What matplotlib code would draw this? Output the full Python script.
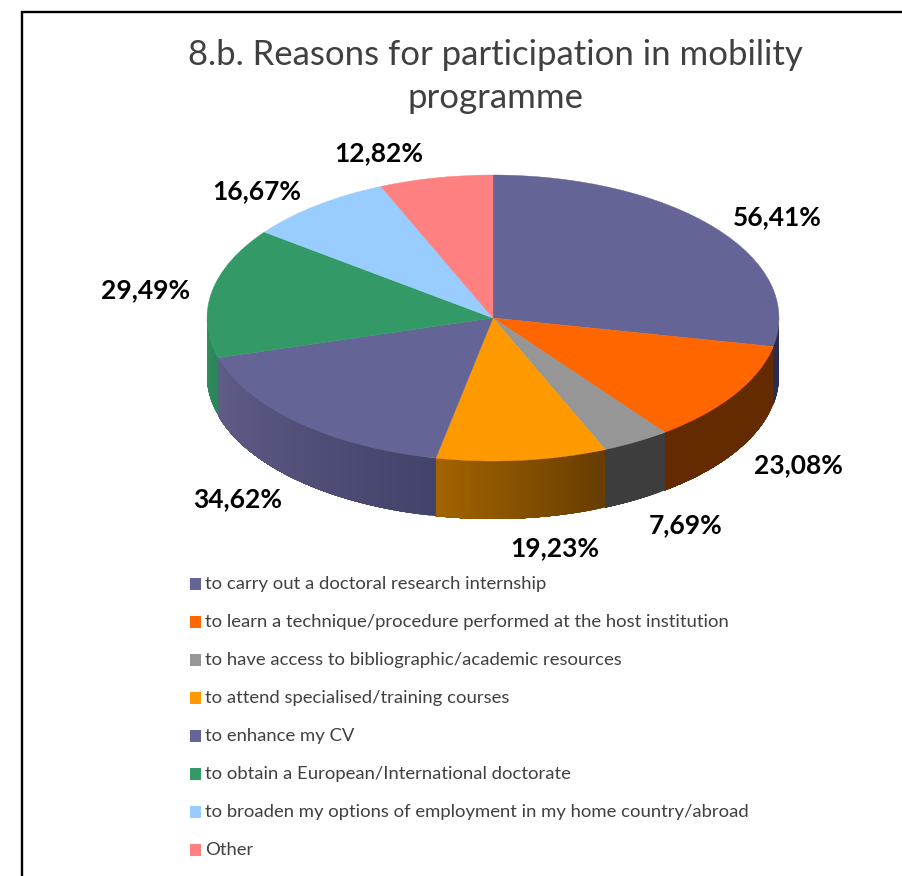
import matplotlib
matplotlib.use("Agg")
import matplotlib.pyplot as plt
import matplotlib.colors as mcolors
from matplotlib.patches import Wedge, Rectangle
from matplotlib.transforms import Affine2D
import numpy as np

plt.rcParams['font.family'] = ['Lato', 'DejaVu Sans']

# data
reasons = [
    'to carry out a doctoral research internship',
    'to learn a technique/procedure performed at the host institution',
    'to have access to bibliographic/academic resources',
    'to attend specialised/training courses',
    'to enhance my CV',
    'to obtain a European/International doctorate',
    'to broaden my options of employment in my home country/abroad',
    'Other',
]
percents = [56.41, 23.08, 7.69, 19.23, 34.62, 29.49, 16.67, 12.82]
value_labels = ['56,41%', '23,08%', '7,69%', '19,23%', '34,62%', '29,49%', '16,67%', '12,82%']

top_colors = ['#646496', '#ff6600', '#969696', '#ff9900', '#646496', '#339966', '#99ccff', '#ff8080']
side_from = ['#2b2b4d', '#652b00', '#3d3d3d', '#a36400', '#605e88', '#2f8f5f', '#99ccff', '#ff8080']
side_to = ['#2b2b4d', '#652b00', '#3d3d3d', '#663c00', '#43426a', '#2b8558', '#99ccff', '#ff8080']

# pixel positions of the value labels
label_x = [777, 798, 686, 555, 238, 146, 257, 379]
label_y = [217, 465, 525, 548, 499, 290, 191, 153]

cx, cy, rx, ry, depth = 493, 318, 286, 143, 58

fig = plt.figure(figsize=(9.02, 8.76), dpi=100)
ax = fig.add_axes([0, 0, 1, 1])
ax.set_xlim(0, 902)
ax.set_ylim(876, 0)
ax.axis('off')

# frame, only top and left show
ax.plot([21.5, 21.5, 902], [876, 12, 12], color='black', lw=1.7, solid_joinstyle='miter')

ax.text(495, 55, '8.b. Reasons for participation in mobility', ha='center', va='center',
        fontsize=25, color='#404040')
ax.text(495, 98, 'programme', ha='center', va='center', fontsize=25, color='#404040')

angles = np.cumsum([0] + percents) / sum(percents) * 360
ellipse = Affine2D().scale(rx, ry).translate(cx, cy) + ax.transData

# side wall first. each strip runs on to the end of its slice, so no seams show
for i in range(len(percents)):
    start = max(angles[i], 90)
    end = min(angles[i + 1], 270)
    if end <= start:
        continue
    steps = int(end - start) + 1
    edges = np.radians(np.linspace(start, end, steps * 4 + 1))
    c0 = np.array(mcolors.to_rgb(side_from[i]))
    c1 = np.array(mcolors.to_rgb(side_to[i]))
    for k in range(steps):
        a = edges[k * 4:]
        xs = cx + rx * np.sin(a)
        ys = cy - ry * np.cos(a)
        col = c0 + (c1 - c0) * (1 - (k + 0.5) / steps)
        ax.fill(np.r_[xs, xs[::-1]], np.r_[ys, ys[::-1] + depth], color=col, lw=0)

for i in range(len(percents)):
    theta1 = angles[i] - 90
    theta2 = angles[i + 1] - 90
    ax.add_patch(Wedge((0, 0), 1, theta1, theta2, facecolor=top_colors[i],
                       edgecolor=top_colors[i], lw=0.3, transform=ellipse))

for x, y, lab in zip(label_x, label_y, value_labels):
    ax.text(x, y, lab, ha='center', va='center', fontsize=19, fontweight='bold', color='black')

# legend
for i, reason in enumerate(reasons):
    y = 584 + i * 38
    ax.add_patch(Rectangle((190, y - 6), 11, 12, facecolor=top_colors[i], edgecolor='none'))
    ax.text(205, y, reason, ha='left', va='center', fontsize=13.3, color='#404040')

fig.savefig('out.png', dpi=100)
